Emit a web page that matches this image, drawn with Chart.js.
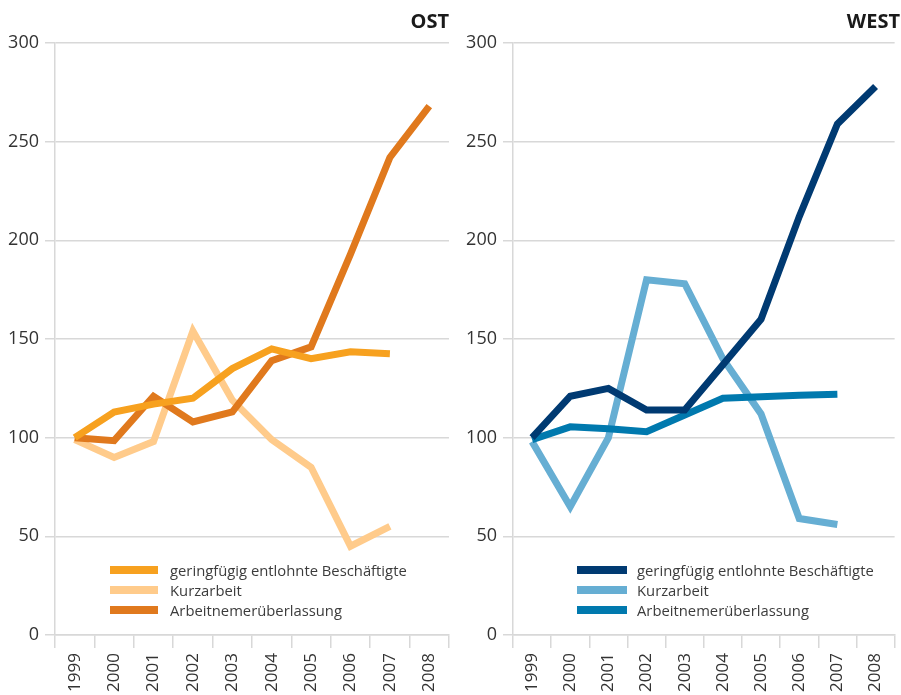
<!DOCTYPE html>
<html>
<head>
<meta charset="utf-8">
<script src="https://cdn.jsdelivr.net/npm/chart.js@4.4.1/dist/chart.umd.min.js"></script>
<style>
    body { margin: 0; background: #fff; font-family: "Open Sans", sans-serif; }
    #wrap { position: relative; width: 901px; height: 695px; }
    .box { position: absolute; top: 0; height: 695px; }
    #boxOst { left: 0; width: 458px; }
    #boxWest { left: 458px; width: 443px; }
    .legenda { position: absolute; font-size: 14.8px; color: #3c3c3c; line-height: 20px; }
    .legenda div { position: relative; height: 20px; white-space: nowrap; }
    .legenda span.cor { position: absolute; top: 6px; height: 8px; }
</style>
</head>
<body>
<div id="wrap">
    <div class="box" id="boxOst"><canvas id="chartOst"></canvas></div>
    <div class="box" id="boxWest"><canvas id="chartWest"></canvas></div>
    <div class="legenda" id="legOst" style="left:110px; top:560px;"></div>
    <div class="legenda" id="legWest" style="left:577px; top:560px;"></div>
</div>
<script>
const anos = ["1999", "2000", "2001", "2002", "2003", "2004", "2005", "2006", "2007", "2008"];
const nomes = ["geringfügig entlohnte Beschäftigte", "Kurzarbeit", "Arbeitnemerüberlassung"];
const yTicks = [0, 50, 100, 150, 200, 250, 300];

// OST
const ostGeringfuegig = [100, 113, 117, 120, 135, 145, 140, 143.5, 142.5, null];
const ostKurzarbeit = [99, 90, 98, 154, 119, 99, 85, 45, 55, null];
const ostArbeitnehmer = [100, 98.5, 121, 108, 113, 139, 146, 193, 242, 268];
const ostCores = ["#f7a11f", "#ffcb8b", "#e0791d"];

// WEST
const westGeringfuegig = [100, 121, 125, 114, 114, 137, 160, 212, 259, 278];
const westKurzarbeit = [98, 65, 100, 180, 178, 140, 112, 59, 56, null];
const westArbeitnehmer = [99, 105.5, 104.5, 103, 111.5, 120, 120.7, 121.5, 122, null];
const westCores = ["#003a72", "#66aed3", "#0079ae"];

const corGrade = "#d8d8d8";

function montarDatasets(series, cores) {
    let lista = [];
    for (let i = 0; i < series.length; i++) {
        lista.push({
            label: nomes[i],
            data: series[i],
            borderColor: cores[i],
            backgroundColor: cores[i],
            borderWidth: 7,
            borderJoinStyle: "miter",
            borderCapStyle: "butt",
            pointRadius: 0,
            tension: 0,
            fill: false
        });
    }
    // ordem de desenho: a primeira serie por cima
    lista[0].order = 0;
    lista[1].order = 2;
    lista[2].order = 1;
    return lista;
}

function plotarGrafico(idCanvas, titulo, series, cores, padDireita) {
    const config = {
        type: "line",
        data: {
            labels: anos,
            datasets: montarDatasets(series, cores)
        },
        options: {
            responsive: true,
            maintainAspectRatio: false,
            animation: false,
            layout: { padding: { left: 0, right: padDireita, top: 0, bottom: 0 } },
            plugins: {
                legend: { display: false },
                tooltip: { enabled: false },
                title: {
                    display: true,
                    text: titulo,
                    align: "end",
                    color: "#1a1a1a",
                    font: { family: "Open Sans", size: 20, weight: "bold", lineHeight: 1.2 },
                    padding: { top: 10, bottom: 9 }
                }
            },
            scales: {
                x: {
                    type: "category",
                    offset: true,
                    grid: {
                        offset: true,
                        drawOnChartArea: false,
                        drawTicks: true,
                        tickLength: 13,
                        color: corGrade,
                        lineWidth: 1.5
                    },
                    border: { display: true, color: corGrade, width: 1.5 },
                    ticks: {
                        minRotation: 90,
                        maxRotation: 90,
                        padding: 5,
                        color: "#333",
                        font: { family: "Open Sans", size: 17 }
                    },
                    afterFit: function (escala) { escala.height = 60; }
                },
                y: {
                    min: 0,
                    max: 300,
                    afterBuildTicks: function (escala) {
                        escala.ticks = yTicks.map(v => ({ value: v }));
                    },
                    grid: {
                        color: corGrade,
                        lineWidth: 1.5,
                        tickLength: 10
                    },
                    border: { display: true, color: corGrade, width: 1.5 },
                    ticks: {
                        padding: 6,
                        color: "#333",
                        font: { family: "Open Sans", size: 18 }
                    },
                    afterFit: function (escala) { escala.width = 55; }
                }
            }
        }
    };
    return new Chart(document.getElementById(idCanvas).getContext("2d"), config);
}

function montarLegenda(idDiv, cores, largura, espaco) {
    let div = document.getElementById(idDiv);
    for (let i = 0; i < nomes.length; i++) {
        let linha = document.createElement("div");
        let cor = document.createElement("span");
        cor.className = "cor";
        cor.style.left = "0px";
        cor.style.width = largura + "px";
        cor.style.background = cores[i];
        let texto = document.createElement("span");
        texto.style.marginLeft = (largura + espaco) + "px";
        texto.textContent = nomes[i];
        linha.appendChild(cor);
        linha.appendChild(texto);
        div.appendChild(linha);
    }
}

plotarGrafico("chartOst", "OST", [ostGeringfuegig, ostKurzarbeit, ostArbeitnehmer], ostCores, 9);
plotarGrafico("chartWest", "WEST", [westGeringfuegig, westKurzarbeit, westArbeitnehmer], westCores, 1);
montarLegenda("legOst", ostCores, 48, 12);
montarLegenda("legWest", westCores, 50, 10);
</script>
</body>
</html>
